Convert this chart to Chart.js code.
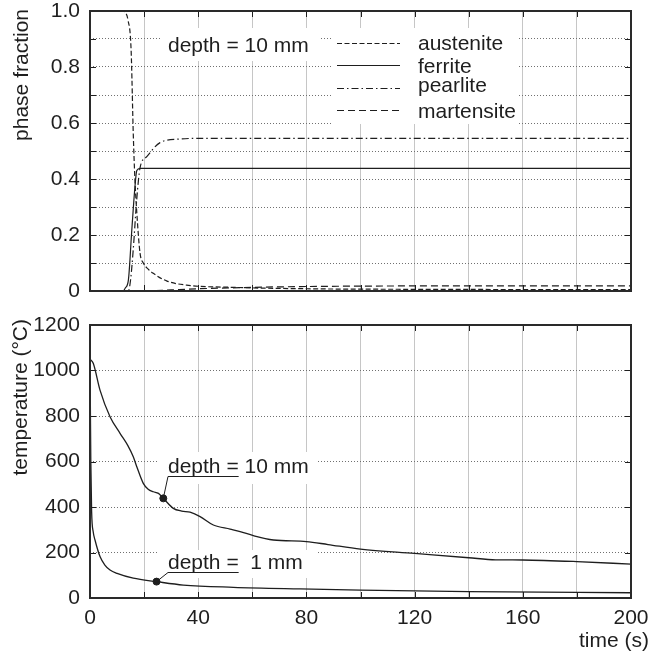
<!DOCTYPE html>
<html>
<head>
<meta charset="utf-8">
<script src="https://cdn.jsdelivr.net/npm/chart.js@4.4.1/dist/chart.umd.min.js"></script>
<style>
  html, body { margin: 0; padding: 0; background: #fff; }
  #wrap { position: relative; width: 652px; height: 658px; }
  canvas { position: absolute; left: 0; }
  #phase { top: 0; }
  #temp { top: 310px; }
</style>
</head>
<body>
<div id="wrap">
  <canvas id="phase" width="652" height="310"></canvas>
  <canvas id="temp" width="652" height="348"></canvas>
</div>
<script>
const FONT = "'Liberation Sans', Arial, Helvetica, sans-serif";
const INK = "#1e1e1e";
const FS = 21;

// tick labels
const fracTicks = ["0", "", "0.2", "", "0.4", "", "0.6", "", "0.8", "", "1.0"];
const tempTicks = ["0", "200", "400", "600", "800", "1000", "1200"];
const timeTicks = ["0", "", "40", "", "80", "", "120", "", "160", "", "200"];

// phase fractions, depth = 10 mm
const phaseNames = ["austenite", "ferrite", "pearlite", "martensite"];
const austeniteTime = [0, 12, 13, 14, 15.2, 16, 16.6, 17.3, 18.5, 19.7, 21.5, 23.4, 28.3, 35.7, 53, 80, 120, 200];
const austeniteFrac = [1, 1, 0.995, 0.97, 0.86, 0.56, 0.40, 0.28, 0.135, 0.10, 0.078, 0.063, 0.036, 0.021, 0.013, 0.008, 0.006, 0.005];
const ferriteTime = [0, 12.3, 13, 14.2, 15.4, 16.6, 17.3, 18.5, 200];
const ferriteFrac = [0, 0, 0.01, 0.04, 0.21, 0.37, 0.43, 0.438, 0.438];
const pearliteTime = [0, 14.2, 15, 16, 17.3, 18.5, 21, 25.9, 33.3, 40, 200];
const pearliteFrac = [0, 0, 0.04, 0.15, 0.33, 0.44, 0.48, 0.53, 0.543, 0.545, 0.545];
const martensiteTime = [0, 20, 30, 40, 60, 80, 120, 200];
const martensiteFrac = [0, 0, 0.004, 0.008, 0.013, 0.016, 0.018, 0.018];

// temperature curves
const depth10Time = [0, 1.2, 3.7, 7.4, 11.1, 14, 16, 17.3, 19.7, 21.5, 23.4, 25.3, 27.1, 30.8, 33.9, 37, 40.7, 45.6, 51.8, 55.5, 60.4, 67.8, 80, 88, 100, 120, 140, 150, 160, 180, 200];
const depth10Temp = [1050, 1032, 914, 797, 724, 670, 621, 577, 504, 478, 467, 460, 438, 394, 382, 377, 358, 321, 303, 292, 274, 255, 248, 235, 215, 196, 177, 168, 167, 160, 149];
const depth1Time = [0, 0.3, 0.6, 1.2, 1.85, 3.7, 5.5, 7.4, 10, 16, 24.6, 34.5, 53, 77.6, 100, 140, 200];
const depth1Temp = [1050, 600, 380, 290, 255, 182, 145, 123, 108, 87, 72, 57, 47, 40, 35, 28, 23];
const markerTime = [27.1, 24.6];
const markerTemp = [438, 72];
const markerLabels = ["depth = 10 mm", "depth =  1 mm"];

const phaseDash = [[5, 2.5], [], [7, 3, 1.5, 3], [7, 4]];
const phaseSeries = [
  [austeniteTime, austeniteFrac],
  [ferriteTime, ferriteFrac],
  [pearliteTime, pearliteFrac],
  [martensiteTime, martensiteFrac]
];

const pts = (xs, ys) => xs.map((x, i) => ({ x: x, y: ys[i] }));

// tick labels are drawn by the frame plugin so the plot area stays fixed
function xScale(h, labels) {
  return {
    type: "linear", min: 0, max: 200,
    ticks: { stepSize: 20, display: false, autoSkip: false, labels: labels },
    grid: { color: "#c6c6c6", lineWidth: 1, drawTicks: false },
    border: { display: false },
    afterFit: s => { s.height = h; }
  };
}

function yScale(max, step, labels) {
  return {
    type: "linear", min: 0, max: max,
    ticks: { stepSize: step, display: false, autoSkip: false, labels: labels },
    grid: { color: "#707070", lineWidth: 1, drawTicks: false },
    border: { display: false, dash: [1, 2] },
    afterFit: s => { s.width = 90; }
  };
}

const framePlugin = {
  id: "frame",
  beforeDatasetsDraw(chart, args, opts) {
    const ctx = chart.ctx;
    ctx.save();
    ctx.fillStyle = "#fff";
    (opts.boxes || []).forEach(b => ctx.fillRect(b[0], b[1], b[2], b[3]));
    ctx.restore();
  },
  afterDatasetsDraw(chart, args, opts) {
    const { ctx, chartArea: a, scales: { x, y } } = chart;
    ctx.save();
    ctx.strokeStyle = INK;
    ctx.lineWidth = 1;
    ctx.beginPath();
    x.ticks.forEach(t => {
      const px = Math.round(x.getPixelForValue(t.value)) + 0.5;
      ctx.moveTo(px, a.top); ctx.lineTo(px, a.top + 6);
      ctx.moveTo(px, a.bottom); ctx.lineTo(px, a.bottom - 6);
    });
    y.ticks.forEach(t => {
      const py = Math.round(y.getPixelForValue(t.value)) + 0.5;
      ctx.moveTo(a.left, py); ctx.lineTo(a.left + 6, py);
      ctx.moveTo(a.right, py); ctx.lineTo(a.right - 6, py);
    });
    ctx.stroke();
    ctx.lineWidth = 2;
    ctx.strokeStyle = "#2a2a2a";
    ctx.strokeRect(a.left, a.top, a.width, a.height);

    ctx.fillStyle = INK;
    ctx.font = FS + "px " + FONT;
    ctx.textBaseline = "middle";
    ctx.textAlign = "right";
    const yl = y.options.ticks.labels;
    y.ticks.forEach((t, i) => {
      if (yl[i]) ctx.fillText(yl[i], a.left - 10, y.getPixelForValue(t.value));
    });
    if (opts.xLabels) {
      ctx.textAlign = "center";
      const xl = x.options.ticks.labels;
      x.ticks.forEach((t, i) => {
        if (xl[i]) ctx.fillText(xl[i], x.getPixelForValue(t.value), a.bottom + 20);
      });
    }
    ctx.restore();
  }
};

function vTitle(ctx, text, cx, top) {
  ctx.save();
  ctx.translate(cx, top);
  ctx.rotate(-Math.PI / 2);
  ctx.textAlign = "right";
  ctx.textBaseline = "middle";
  ctx.fillText(text, 0, 0);
  ctx.restore();
}

const phaseText = {
  id: "phaseText",
  afterDraw(chart) {
    const ctx = chart.ctx;
    ctx.save();
    ctx.fillStyle = INK;
    ctx.strokeStyle = INK;
    ctx.font = FS + "px " + FONT;
    vTitle(ctx, "phase fraction", 22, 9);
    ctx.textAlign = "left";
    ctx.textBaseline = "middle";
    ctx.fillText("depth = 10 mm", 168, 46);
    const lineY = [43, 65, 88, 110];
    const textY = [44, 67, 86, 112];
    phaseNames.forEach((name, i) => {
      ctx.setLineDash(phaseDash[i]);
      ctx.lineWidth = 1.2;
      ctx.beginPath();
      ctx.moveTo(337, lineY[i] + 0.5);
      ctx.lineTo(400, lineY[i] + 0.5);
      ctx.stroke();
      ctx.setLineDash([]);
      ctx.fillText(name, 418, textY[i]);
    });
    ctx.restore();
  }
};

const tempText = {
  id: "tempText",
  afterDraw(chart) {
    const { ctx, scales: { x, y } } = chart;
    ctx.save();
    ctx.fillStyle = INK;
    ctx.strokeStyle = INK;
    ctx.font = FS + "px " + FONT;
    vTitle(ctx, "temperature (\u00B0C)", 21, 9);
    ctx.textAlign = "right";
    ctx.textBaseline = "middle";
    ctx.fillText("time (s)", 649, 331);
    ctx.textAlign = "left";
    const textY = [157, 253];
    const underY = [166.5, 262.5];
    const w = ctx.measureText("depth =").width;
    ctx.lineWidth = 1;
    markerLabels.forEach((label, i) => {
      ctx.fillText(label, 168, textY[i]);
      const mx = x.getPixelForValue(markerTime[i]);
      const my = y.getPixelForValue(markerTemp[i]);
      ctx.beginPath();
      ctx.moveTo(mx, my);
      ctx.lineTo(168, underY[i]);
      ctx.lineTo(168 + w, underY[i]);
      ctx.stroke();
    });
    ctx.restore();
  }
};

new Chart(document.getElementById("phase"), {
  type: "line",
  data: {
    datasets: phaseSeries.map((s, i) => ({
      label: phaseNames[i],
      data: pts(s[0], s[1]),
      borderColor: INK,
      borderWidth: 1.2,
      borderDash: phaseDash[i],
      pointRadius: 0,
      fill: false,
      cubicInterpolationMode: "monotone"
    }))
  },
  options: {
    responsive: false,
    animation: false,
    layout: { padding: { left: 0, right: 21, top: 11, bottom: 0 } },
    scales: {
      x: xScale(19, timeTicks),
      y: yScale(1, 0.1, fracTicks)
    },
    plugins: {
      legend: { display: false },
      tooltip: { enabled: false },
      frame: { xLabels: false, boxes: [[160, 28, 160, 33], [333, 28, 186, 96]] }
    }
  },
  plugins: [framePlugin, phaseText]
});

new Chart(document.getElementById("temp"), {
  type: "line",
  data: {
    datasets: [
      {
        label: "depth = 10 mm",
        data: pts(depth10Time, depth10Temp),
        borderColor: INK, borderWidth: 1.3, pointRadius: 0, fill: false,
        cubicInterpolationMode: "monotone"
      },
      {
        label: "depth = 1 mm",
        data: pts(depth1Time, depth1Temp),
        borderColor: INK, borderWidth: 1.3, pointRadius: 0, fill: false,
        cubicInterpolationMode: "monotone"
      },
      {
        label: "markers",
        data: pts(markerTime, markerTemp),
        showLine: false,
        pointRadius: 3.5,
        pointBackgroundColor: INK,
        pointBorderColor: INK
      }
    ]
  },
  options: {
    responsive: false,
    animation: false,
    layout: { padding: { left: 0, right: 21, top: 15, bottom: 0 } },
    scales: {
      x: xScale(60, timeTicks),
      y: yScale(1200, 200, tempTicks)
    },
    plugins: {
      legend: { display: false },
      tooltip: { enabled: false },
      frame: { xLabels: true, boxes: [[158, 142, 160, 32], [158, 240, 160, 28]] }
    }
  },
  plugins: [framePlugin, tempText]
});
</script>
</body>
</html>
